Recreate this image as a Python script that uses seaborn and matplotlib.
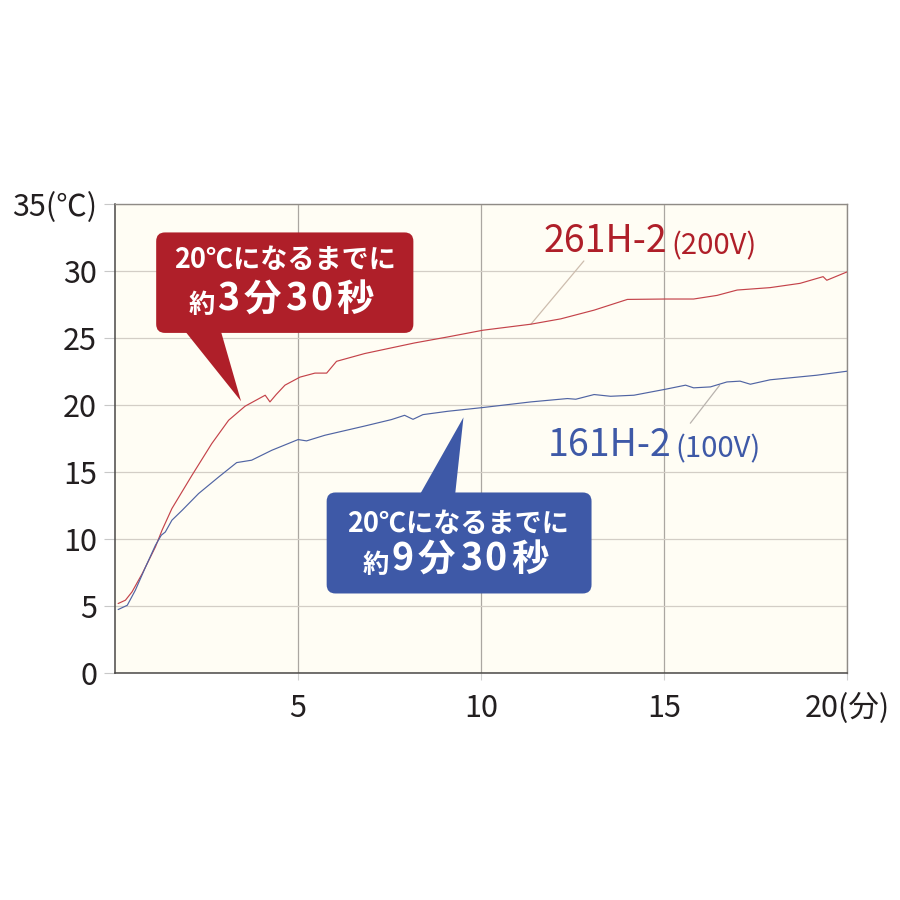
import numpy as np
import pandas as pd
import matplotlib
matplotlib.use('Agg')
import matplotlib.pyplot as plt
import seaborn as sns
from matplotlib import font_manager
from matplotlib.patches import FancyBboxPatch, Polygon

# time (min) / water temperature (deg C)
red_min = [0.08, 0.28, 0.46, 0.74, 1.10, 1.28, 1.55, 2.10, 2.64, 3.10, 3.55, 4.10, 4.23,
           4.40, 4.64, 5.05, 5.46, 5.78, 6.05, 6.82, 8.18, 9.09, 10.05, 11.36, 12.18, 13.09,
           14.0, 15.05, 15.81, 16.45, 17.0, 17.9, 18.72, 19.35, 19.45, 20.0]
red_temp = [5.2, 5.45, 6.07, 7.44, 9.43, 10.67, 12.29, 14.78, 17.14, 18.88, 19.93, 20.75, 20.25,
            20.8, 21.5, 22.1, 22.4, 22.4, 23.28, 23.86, 24.65, 25.1, 25.6, 26.05, 26.45, 27.1,
            27.9, 27.93, 27.93, 28.2, 28.6, 28.78, 29.1, 29.6, 29.33, 29.95]

blue_min = [0.08, 0.33, 0.55, 0.83, 1.10, 1.26, 1.37, 1.55, 1.83, 2.28, 2.83, 3.32, 3.73, 4.28,
            5.0, 5.23, 5.73, 6.82, 7.55, 7.91, 8.14, 8.41, 9.09, 10.05, 11.36, 12.36, 12.59,
            13.09, 13.54, 14.18, 15.05, 15.59, 15.81, 16.27, 16.72, 17.08, 17.36, 17.9, 19.17, 20.0]
blue_temp = [4.75, 5.07, 6.19, 7.93, 9.55, 10.3, 10.54, 11.42, 12.16, 13.41, 14.65, 15.72, 15.9,
             16.64, 17.44, 17.34, 17.76, 18.45, 18.93, 19.25, 18.95, 19.3, 19.55, 19.83, 20.25,
             20.5, 20.45, 20.8, 20.67, 20.75, 21.2, 21.5, 21.3, 21.37, 21.74, 21.8, 21.57, 21.9,
             22.24, 22.54]

models = ['261H-2', '161H-2']
volts = ['(200V)', '(100V)']
x_ticks = [5, 10, 15, 20]
x_labels = ['5', '10', '15', '20(分)']
y_ticks = [0, 5, 10, 15, 20, 25, 30, 35]
y_labels = ['0', '5', '10', '15', '20', '25', '30', '35(℃)']
note_head = '20℃になるまでに'
red_note = ['約', '3', '分', '3', '0', '秒']
blue_note = ['約', '9', '分', '3', '0', '秒']

RED = '#AF1F29'
BLUE = '#3E59A7'
RED_LINE = '#C4434A'
BLUE_LINE = '#5064A3'

sns.set_theme(style='white')
plt.rcParams['font.family'] = ['Noto Sans CJK JP', 'DejaVu Sans']

df = pd.concat([
    pd.DataFrame({'分': red_min, '温度': red_temp, '機種': models[0]}),
    pd.DataFrame({'分': blue_min, '温度': blue_temp, '機種': models[1]}),
], ignore_index=True)

fig = plt.figure(figsize=(9, 9), dpi=100)
fig.patch.set_facecolor('white')
ax = fig.add_axes([0.128, 0.252, 0.813, 0.521])
ax.set_facecolor('#FFFDF4')

sns.lineplot(data=df, x='分', y='温度', hue='機種', palette={models[0]: RED_LINE, models[1]: BLUE_LINE},
             estimator=None, sort=False, legend=False, linewidth=0.85, ax=ax, zorder=3)

ax.set_xlim(0, 20)
ax.set_ylim(0, 35)
ax.set_xticks(x_ticks)
ax.set_xticklabels(x_labels)
ax.set_yticks(y_ticks)
ax.set_yticklabels(y_labels)
ax.set_xlabel('')
ax.set_ylabel('')
ax.grid(axis='y', color='#D3CEC6', linewidth=0.9, zorder=1)
ax.grid(axis='x', color='#ABA7A1', linewidth=0.9, zorder=1)
ax.tick_params(axis='y', length=8, width=0.8, color='#C8C8C8', pad=5, labelsize=22, labelcolor='#231F20')
ax.tick_params(axis='x', length=5, width=0.8, color='#D0D0D0', pad=9, labelsize=22, labelcolor='#231F20')
ax.tick_params(left=True, bottom=True)
for side in ['left', 'bottom']:
    ax.spines[side].set_color('#4A4846')
    ax.spines[side].set_linewidth(1.1)
for side in ['top', 'right']:
    ax.spines[side].set_color('#8F8B86')
    ax.spines[side].set_linewidth(1.0)

# px -> data: x = (px - 113) / 36.7, y = (673 - py) / 13.4
aspect = 36.7 / 13.4


def callout(x0, x1, y0, y1, base, tip, color):
    box = FancyBboxPatch((x0, y0), x1 - x0, y1 - y0,
                         boxstyle='round,pad=0,rounding_size=0.24',
                         mutation_aspect=aspect, facecolor=color, edgecolor='none', zorder=5)
    ax.add_patch(box)
    ax.add_patch(Polygon([base[0], base[1], tip], closed=True, facecolor=color,
                         edgecolor='none', zorder=5))


def chain(x, y, chars, sizes, gaps, color, weight='normal'):
    prev = ax.text(x, y, chars[0], fontsize=sizes[0], color=color, ha='left', va='bottom',
                   fontweight=weight, zorder=6)
    for ch, fs, g in zip(chars[1:], sizes[1:], gaps):
        prev = ax.annotate(ch, xy=(1, 0), xycoords=prev, xytext=(g, 0), textcoords='offset points',
                           fontsize=fs, color=color, ha='left', va='bottom', fontweight=weight, zorder=6)
    return prev


note_sizes = [19, 27, 27, 27, 27, 27]
note_gaps = [2, 3, 3, 2, 3]

# red callout
callout(1.12, 8.15, 25.4, 32.9, [(1.83, 25.8), (2.86, 25.8)], (3.44, 20.3), RED)
ax.text(4.64, 30.85, note_head, fontsize=19.5, fontweight='bold', color='white',
        ha='center', va='center', zorder=6)
chain(2.0, 26.45, red_note, note_sizes, note_gaps, 'white', weight='bold')

# blue callout
callout(5.78, 13.02, 5.95, 13.49, [(8.32, 13.3), (9.29, 13.3)], (9.52, 19.1), BLUE)
ax.text(9.37, 11.15, note_head, fontsize=19.5, fontweight='bold', color='white',
        ha='center', va='center', zorder=6)
chain(6.76, 7.05, blue_note, note_sizes, note_gaps, 'white', weight='bold')

# series labels with leader lines
ax.plot([12.81, 11.36], [30.77, 26.04], color='#CDBDAE', linewidth=0.9, zorder=2)
ax.plot([15.72, 16.52], [18.66, 21.49], color='#B9B3AE', linewidth=0.9, zorder=2)
chain(11.72, 30.75, [models[0], volts[0]], [27, 21], [3], RED)
chain(11.82, 15.55, [models[1], volts[1]], [27, 21], [3], BLUE)

fig.savefig('out.png', dpi=100, facecolor='white')
